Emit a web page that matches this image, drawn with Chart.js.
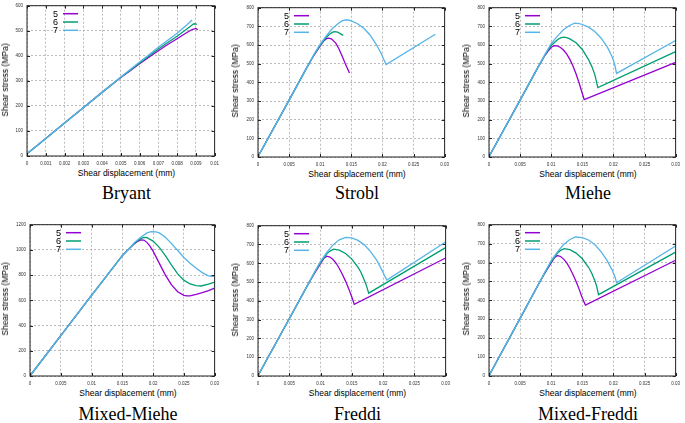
<!DOCTYPE html>
<html>
<head>
<meta charset="utf-8">
<script src="https://cdn.jsdelivr.net/npm/chart.js@4.4.0/dist/chart.umd.min.js"></script>
<style>
  html, body { margin:0; padding:0; background:#fff; }
  #fig { position:relative; width:685px; height:423px; overflow:hidden; background:#fff; }
  #fig canvas { position:absolute; }
  .xt, .yt, .pt { position:absolute; white-space:nowrap; color:#000; }
  .xt { font:8.5px "Liberation Sans", Arial, sans-serif; transform:translate(-50%,-50%); }
  .yt { font:8.5px "Liberation Sans", Arial, sans-serif; transform:translate(-50%,-50%) rotate(-90deg); }
  .pt { font:18px "Liberation Serif", "Times New Roman", serif; transform:translate(-50%,-50%); }
</style>
</head>
<body>
<div id="fig"></div>
<script>
// tick values
const xTicksShort = [0, 0.001, 0.002, 0.003, 0.004, 0.005, 0.006, 0.007, 0.008, 0.009, 0.01];
const xTicksLong = [0, 0.005, 0.01, 0.015, 0.02, 0.025, 0.03];
const yTicks600 = [0, 100, 200, 300, 400, 500, 600];
const yTicks800 = [0, 100, 200, 300, 400, 500, 600, 700, 800];
const yTicks1200 = [0, 200, 400, 600, 800, 1000, 1200];

const seriesLabels = ['5', '6', '7'];
const seriesColors = ['#9400d3', '#009e73', '#56b4e9'];

// curves: [displacement mm, stress MPa]
const bryant5 = [[0.00005,12],[0.001,70],[0.002,132],[0.003,193],[0.004,254],[0.005,313],[0.0055,340],[0.006,368],[0.0065,394],[0.007,420],[0.0075,445],[0.008,468],[0.0085,492],[0.0088,505],[0.009,509],[0.0091,504]];
const bryant6 = [[0.00005,12],[0.001,70],[0.002,132],[0.003,193],[0.004,254],[0.005,314],[0.0055,342],[0.006,371],[0.0065,399],[0.007,427],[0.0075,453],[0.008,478],[0.0085,506],[0.0088,523],[0.0089,528],[0.00905,526]];
const bryant7 = [[0.00005,12],[0.001,70],[0.002,132],[0.003,193],[0.004,254],[0.005,315],[0.0055,345],[0.006,375],[0.0065,404],[0.007,434],[0.0075,462],[0.008,490],[0.0085,522],[0.0088,543]];

const strobl5 = [[0.0001,8],[0.005,305],[0.008,488],[0.009,545],[0.01,595],[0.0105,620],[0.011,634],[0.0113,637],[0.0118,633],[0.0125,610],[0.013,580],[0.0135,542],[0.014,502],[0.0147,450]];
const strobl6 = [[0.0001,8],[0.005,305],[0.008,488],[0.009,548],[0.01,600],[0.011,642],[0.0115,658],[0.012,669],[0.0123,672],[0.0128,669],[0.0133,660],[0.0137,652]];
const strobl7 = [[0.0001,8],[0.005,305],[0.008,488],[0.009,550],[0.01,605],[0.011,650],[0.012,690],[0.013,718],[0.0135,729],[0.014,735],[0.0145,734],[0.015,729],[0.016,714],[0.017,690],[0.018,654],[0.019,604],[0.0198,555],[0.0203,517],[0.0206,495],[0.0285,658]];

const miehe5 = [[0.0001,8],[0.005,305],[0.008,488],[0.009,545],[0.0095,568],[0.01,588],[0.0105,597],[0.011,595],[0.0115,587],[0.012,572],[0.0125,551],[0.013,523],[0.0135,488],[0.014,445],[0.0145,395],[0.015,340],[0.0153,308],[0.03,507]];
const miehe6 = [[0.0001,8],[0.005,305],[0.008,488],[0.009,548],[0.01,598],[0.011,628],[0.0115,638],[0.012,642],[0.0125,640],[0.013,633],[0.014,612],[0.015,576],[0.016,522],[0.0165,487],[0.017,443],[0.0175,372],[0.03,565]];
const miehe7 = [[0.0001,8],[0.005,305],[0.008,488],[0.009,550],[0.01,608],[0.011,648],[0.012,683],[0.013,706],[0.0138,717],[0.0145,715],[0.015,710],[0.016,696],[0.017,672],[0.018,638],[0.019,590],[0.0198,537],[0.0202,497],[0.0205,448],[0.03,624]];

const mixedMiehe5 = [[0.0001,8],[0.005,320],[0.01,640],[0.015,955],[0.016,1005],[0.017,1050],[0.0175,1068],[0.018,1080],[0.0185,1078],[0.019,1060],[0.0195,1030],[0.02,990],[0.021,895],[0.022,800],[0.023,722],[0.024,668],[0.025,640],[0.0255,635],[0.026,636],[0.027,648],[0.028,662],[0.029,678],[0.03,697]];
const mixedMiehe6 = [[0.0001,8],[0.005,320],[0.01,640],[0.015,955],[0.016,1005],[0.017,1055],[0.018,1090],[0.0185,1100],[0.019,1097],[0.02,1070],[0.021,1020],[0.022,955],[0.023,880],[0.024,810],[0.025,760],[0.026,730],[0.027,716],[0.0278,714],[0.029,728],[0.03,745]];
const mixedMiehe7 = [[0.0001,8],[0.005,320],[0.01,640],[0.015,955],[0.016,1005],[0.017,1060],[0.018,1100],[0.019,1135],[0.0197,1145],[0.0205,1143],[0.021,1135],[0.022,1100],[0.023,1050],[0.024,995],[0.025,940],[0.026,895],[0.027,855],[0.028,820],[0.029,795],[0.0295,790],[0.03,790]];

const freddi5 = [[0.0001,8],[0.005,305],[0.008,488],[0.009,545],[0.01,598],[0.0105,625],[0.011,638],[0.0115,633],[0.012,620],[0.0125,600],[0.013,572],[0.0135,540],[0.014,505],[0.0145,465],[0.015,420],[0.0154,381],[0.03,628]];
const freddi6 = [[0.0001,8],[0.005,305],[0.008,488],[0.009,548],[0.01,605],[0.011,650],[0.0115,665],[0.0121,675],[0.013,670],[0.014,652],[0.015,622],[0.016,578],[0.0165,550],[0.017,510],[0.0173,485],[0.0177,441],[0.03,683]];
const freddi7 = [[0.0001,8],[0.005,305],[0.008,488],[0.009,550],[0.01,610],[0.011,658],[0.012,698],[0.013,725],[0.014,738],[0.015,735],[0.016,722],[0.017,698],[0.018,662],[0.019,615],[0.0198,565],[0.0203,530],[0.0206,511],[0.03,713]];

const mixedFreddi5 = [[0.0001,8],[0.005,305],[0.008,488],[0.009,545],[0.01,598],[0.0105,625],[0.011,637],[0.0115,632],[0.012,618],[0.0125,598],[0.013,570],[0.0135,537],[0.014,500],[0.0145,458],[0.015,412],[0.0155,375],[0.03,612]];
const mixedFreddi6 = [[0.0001,8],[0.005,305],[0.008,488],[0.009,548],[0.01,605],[0.011,650],[0.0115,664],[0.0121,673],[0.013,668],[0.014,650],[0.015,620],[0.016,575],[0.0165,545],[0.017,505],[0.0173,475],[0.0176,430],[0.03,655]];
const mixedFreddi7 = [[0.0001,8],[0.005,305],[0.008,488],[0.009,550],[0.01,610],[0.011,656],[0.012,695],[0.013,722],[0.0139,735],[0.015,732],[0.016,719],[0.017,695],[0.018,658],[0.019,610],[0.0198,560],[0.0203,520],[0.0205,493],[0.03,687]];

// panel layout: plot box [left, top, right, bottom] in page px
const panels = [
  { title:'Bryant', plot:[27,3,218,156], xt:xTicksShort, yt:yTicks600, series:[bryant5,bryant6,bryant7], ytx:5, xty:173, pty:193 },
  { title:'Strobl', plot:[258,5,448,157], xt:xTicksLong, yt:yTicks800, series:[strobl5,strobl6,strobl7], ytx:235, xty:174, pty:193 },
  { title:'Miehe', plot:[489,5,679,157], xt:xTicksLong, yt:yTicks800, series:[miehe5,miehe6,miehe7], ytx:466, xty:174, pty:193 },
  { title:'Mixed-Miehe', plot:[30,222,218,376], xt:xTicksLong, yt:yTicks1200, series:[mixedMiehe5,mixedMiehe6,mixedMiehe7], ytx:5, xty:393, pty:414 },
  { title:'Freddi', plot:[258,223,449,376], xt:xTicksLong, yt:yTicks800, series:[freddi5,freddi6,freddi7], ytx:235, xty:393, pty:414 },
  { title:'Mixed-Freddi', plot:[489,222,679,376], xt:xTicksLong, yt:yTicks800, series:[mixedFreddi5,mixedFreddi6,mixedFreddi7], ytx:466, xty:393, pty:414 }
];

const Y_W = 22, X_H = 12, PAD_T = 4, PAD_R = 6;

// gnuplot-like frame, inward ticks on all four sides, key with samples after text
const framePlugin = {
  id: 'frame',
  afterDraw(chart){
    const {ctx, chartArea:a, scales} = chart;
    ctx.save();
    ctx.strokeStyle = '#222';
    ctx.lineWidth = 1;
    ctx.setLineDash([]);
    ctx.strokeRect(a.left, a.top, a.right - a.left, a.bottom - a.top);
    const tl = 3;
    ctx.beginPath();
    scales.x.ticks.forEach(t => {
      const px = Math.round(scales.x.getPixelForValue(t.value)) + 0.5;
      ctx.moveTo(px, a.bottom); ctx.lineTo(px, a.bottom - tl);
      ctx.moveTo(px, a.top); ctx.lineTo(px, a.top + tl);
    });
    scales.y.ticks.forEach(t => {
      const py = Math.round(scales.y.getPixelForValue(t.value)) + 0.5;
      ctx.moveTo(a.left, py); ctx.lineTo(a.left + tl, py);
      ctx.moveTo(a.right, py); ctx.lineTo(a.right - tl, py);
    });
    ctx.stroke();

    ctx.font = '9px "Liberation Sans", Arial, sans-serif';
    ctx.textAlign = 'right';
    ctx.textBaseline = 'middle';
    chart.data.datasets.forEach((ds, i) => {
      const y = a.top + 8 + i * 8.3;
      ctx.fillStyle = '#000';
      ctx.fillText(ds.label, a.left + 31, y + 0.5);
      ctx.strokeStyle = ds.borderColor;
      ctx.lineWidth = 1.5;
      ctx.beginPath();
      ctx.moveTo(a.left + 36, y); ctx.lineTo(a.left + 51, y);
      ctx.stroke();
    });
    ctx.restore();
  }
};

const fig = document.getElementById('fig');

function addText(cls, txt, x, y){
  const d = document.createElement('div');
  d.className = cls;
  d.textContent = txt;
  d.style.left = x + 'px';
  d.style.top = y + 'px';
  fig.appendChild(d);
}

panels.forEach(p => {
  const [L, T, R, B] = p.plot;
  const cv = document.createElement('canvas');
  const w = (R - L) + Y_W + PAD_R, h = (B - T) + PAD_T + X_H;
  cv.width = w; cv.height = h;
  cv.style.left = (L - Y_W) + 'px';
  cv.style.top = (T - PAD_T) + 'px';
  cv.style.width = w + 'px';
  cv.style.height = h + 'px';
  fig.appendChild(cv);

  const xt = p.xt, yt = p.yt;
  new Chart(cv.getContext('2d'), {
    type: 'line',
    data: {
      datasets: p.series.map((s, i) => ({
        label: seriesLabels[i],
        data: s.map(([x, y]) => ({x, y})),
        borderColor: seriesColors[i],
        borderWidth: 1.3,
        pointRadius: 0,
        tension: 0,
        fill: false,
        order: p.series.length - i   // later series (7) drawn on top, as in gnuplot
      }))
    },
    options: {
      responsive: false,
      animation: false,
      devicePixelRatio: 1,
      layout: { padding: { top: PAD_T, right: PAD_R, left: 0, bottom: 0 } },
      plugins: { legend: { display: false }, tooltip: { enabled: false } },
      scales: {
        x: {
          type: 'linear',
          min: xt[0], max: xt[xt.length - 1],
          afterBuildTicks: ax => { ax.ticks = xt.map(v => ({ value: v })); },
          afterFit: s => { s.height = X_H; },
          grid: { color: '#aaa', lineWidth: 0.8, drawTicks: false },
          border: { display: false, dash: [2, 2] },
          ticks: { font: { size: 4.5, family: 'Liberation Sans' }, color: '#333', padding: 5, maxRotation: 0, autoSkip: false,
                   callback: v => String(v) }
        },
        y: {
          min: yt[0], max: yt[yt.length - 1],
          afterBuildTicks: ax => { ax.ticks = yt.map(v => ({ value: v })); },
          afterFit: s => { s.width = Y_W; },
          grid: { color: '#aaa', lineWidth: 0.8, drawTicks: false },
          border: { display: false, dash: [2, 2] },
          ticks: { font: { size: 4.5, family: 'Liberation Sans' }, color: '#333', padding: 4, autoSkip: false,
                   callback: v => String(v) }
        }
      }
    },
    plugins: [framePlugin]
  });

  const cx = (L + R) / 2;
  addText('yt', 'Shear stress (MPa)', p.ytx, (T + B) / 2);
  addText('xt', 'Shear displacement (mm)', cx + 4, p.xty);
  addText('pt', p.title, cx + 4, p.pty);
});
</script>
</body>
</html>
